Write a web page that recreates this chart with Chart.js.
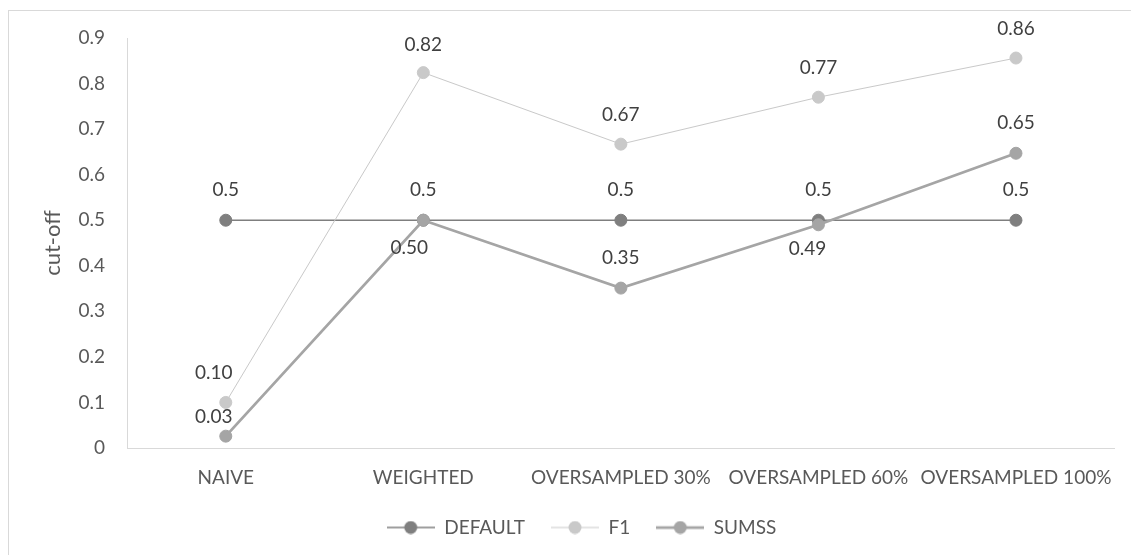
<!DOCTYPE html>
<html><head><meta charset="utf-8">
<script src="https://cdn.jsdelivr.net/npm/chart.js@4.4.0/dist/chart.umd.min.js"></script>
<style>html,body{margin:0;padding:0;background:#fff;overflow:hidden}#wrap{width:1131px;height:555px;position:relative}</style>
</head><body><div id="wrap"><canvas id="c" width="1131" height="555"></canvas></div>
<script>
const categories = ['NAIVE', 'WEIGHTED', 'OVERSAMPLED 30%', 'OVERSAMPLED 60%', 'OVERSAMPLED 100%'];
const seriesNames = ['DEFAULT', 'F1', 'SUMSS'];
const defaultValues = [0.5, 0.5, 0.5, 0.5, 0.5];
const f1Values = [0.10, 0.824, 0.667, 0.77, 0.856];
const sumssValues = [0.026, 0.50, 0.351, 0.49, 0.647];
const yTickLabels = ['0', '0.1', '0.2', '0.3', '0.4', '0.5', '0.6', '0.7', '0.8', '0.9'];
const yAxisTitle = 'cut-off';

const FONT = 'Lato';
const colors = ['#7f7f7f', '#c9c9c9', '#a5a5a5'];
const lineWidths = [1.5, 1, 2.75];

function legendImage(color, lw) {
  const c = document.createElement('canvas');
  c.width = 48; c.height = 14;
  const g = c.getContext('2d');
  g.strokeStyle = color; g.lineWidth = lw;
  g.beginPath(); g.moveTo(0, 7); g.lineTo(48, 7); g.stroke();
  g.fillStyle = color;
  g.beginPath(); g.arc(24, 7, 6.5, 0, Math.PI * 2); g.fill();
  return c;
}
const legendImgs = colors.map((c, i) => legendImage(c, lineWidths[i]));

const borderPlugin = {
  id: 'outerBorder',
  beforeDraw(chart) {
    const ctx = chart.ctx;
    ctx.save();
    ctx.fillStyle = '#fff';
    ctx.fillRect(0, 0, chart.width, chart.height);
    ctx.strokeStyle = '#d9d9d9';
    ctx.lineWidth = 1;
    ctx.strokeRect(8.5, 10.5, 1300, 700);
    ctx.restore();
  }
};

const legendShift = {
  id: 'legendShift',
  afterLayout(chart) {
    if (chart.legend) { chart.legend.left += 24; chart.legend.right += 24; }
  }
};

const valueLabels = {
  id: 'valueLabels',
  afterDatasetsDraw(chart) {
    const ctx = chart.ctx;
    ctx.save();
    ctx.font = '19px ' + FONT;
    ctx.fillStyle = '#404040';
    ctx.textAlign = 'center';
    ctx.textBaseline = 'middle';
    chart.data.datasets.forEach((ds, i) => {
      const meta = chart.getDatasetMeta(i);
      meta.data.forEach((pt, j) => {
        const off = ds.labelOffsets[j];
        ctx.fillText(ds.labelFormat(ds.data[j]), pt.x + off[0], pt.y + off[1]);
      });
    });
    ctx.restore();
  }
};

function ds(idx, data, order, offsets, fmt) {
  return {
    label: seriesNames[idx],
    data: data,
    order: order,
    borderColor: colors[idx],
    backgroundColor: colors[idx],
    borderWidth: lineWidths[idx],
    pointRadius: 6,
    pointBorderWidth: 1,
    pointBackgroundColor: colors[idx],
    pointBorderColor: colors[idx],
    pointHoverRadius: 6,
    tension: 0,
    fill: false,
    labelOffsets: offsets,
    labelFormat: fmt
  };
}

const up = [0, -30];
new Chart(document.getElementById('c'), {
  type: 'line',
  data: {
    labels: categories,
    datasets: [
      ds(0, defaultValues, 3, [up, up, up, up, up], v => String(v)),
      ds(1, f1Values, 2, [[-12, -30], [0, -28], [0, -29], [0, -29], [0, -29]], v => v.toFixed(2)),
      ds(2, sumssValues, 1, [[-12, -19], [-14, 28], [0, -30], [-11, 24], [0, -30]], v => v.toFixed(2))
    ]
  },
  options: {
    responsive: false,
    devicePixelRatio: 1,
    animation: false,
    events: [],
    layout: { padding: { left: 0, right: 16, top: 38, bottom: 8 } },
    scales: {
      x: {
        type: 'category',
        offset: true,
        grid: { display: false, drawTicks: false },
        border: { display: true, color: '#d9d9d9', width: 1 },
        ticks: {
          color: '#595959', font: { family: FONT, size: 19 }, padding: 18,
          maxRotation: 0, minRotation: 0, autoSkip: false
        },
        afterFit(s) { s.height = 44; }
      },
      y: {
        min: 0, max: 0.9,
        grid: { display: false, drawTicks: false },
        border: { display: true, color: '#d9d9d9', width: 1 },
        ticks: {
          stepSize: 0.1, color: '#595959', font: { family: FONT, size: 19 }, padding: 22,
          callback: (v, i) => yTickLabels[i]
        },
        title: {
          display: true, text: yAxisTitle, color: '#595959',
          font: { family: FONT, size: 22 }, padding: { top: 40, bottom: 0 }
        },
        afterFit(s) { s.width = 127; }
      }
    },
    plugins: {
      tooltip: { enabled: false },
      legend: {
        position: 'bottom',
        labels: {
          usePointStyle: true,
          pointStyleWidth: 48,
          padding: 26,
          color: '#595959',
          font: { family: FONT, size: 19 },
          generateLabels(chart) {
            return chart.data.datasets.map((d, i) => ({
              text: d.label, pointStyle: legendImgs[i], fillStyle: colors[i],
              strokeStyle: colors[i], lineWidth: 0, hidden: false, datasetIndex: i,
              fontColor: '#595959'
            }));
          }
        }
      }
    }
  },
  plugins: [borderPlugin, legendShift, valueLabels]
});
</script></body></html>
